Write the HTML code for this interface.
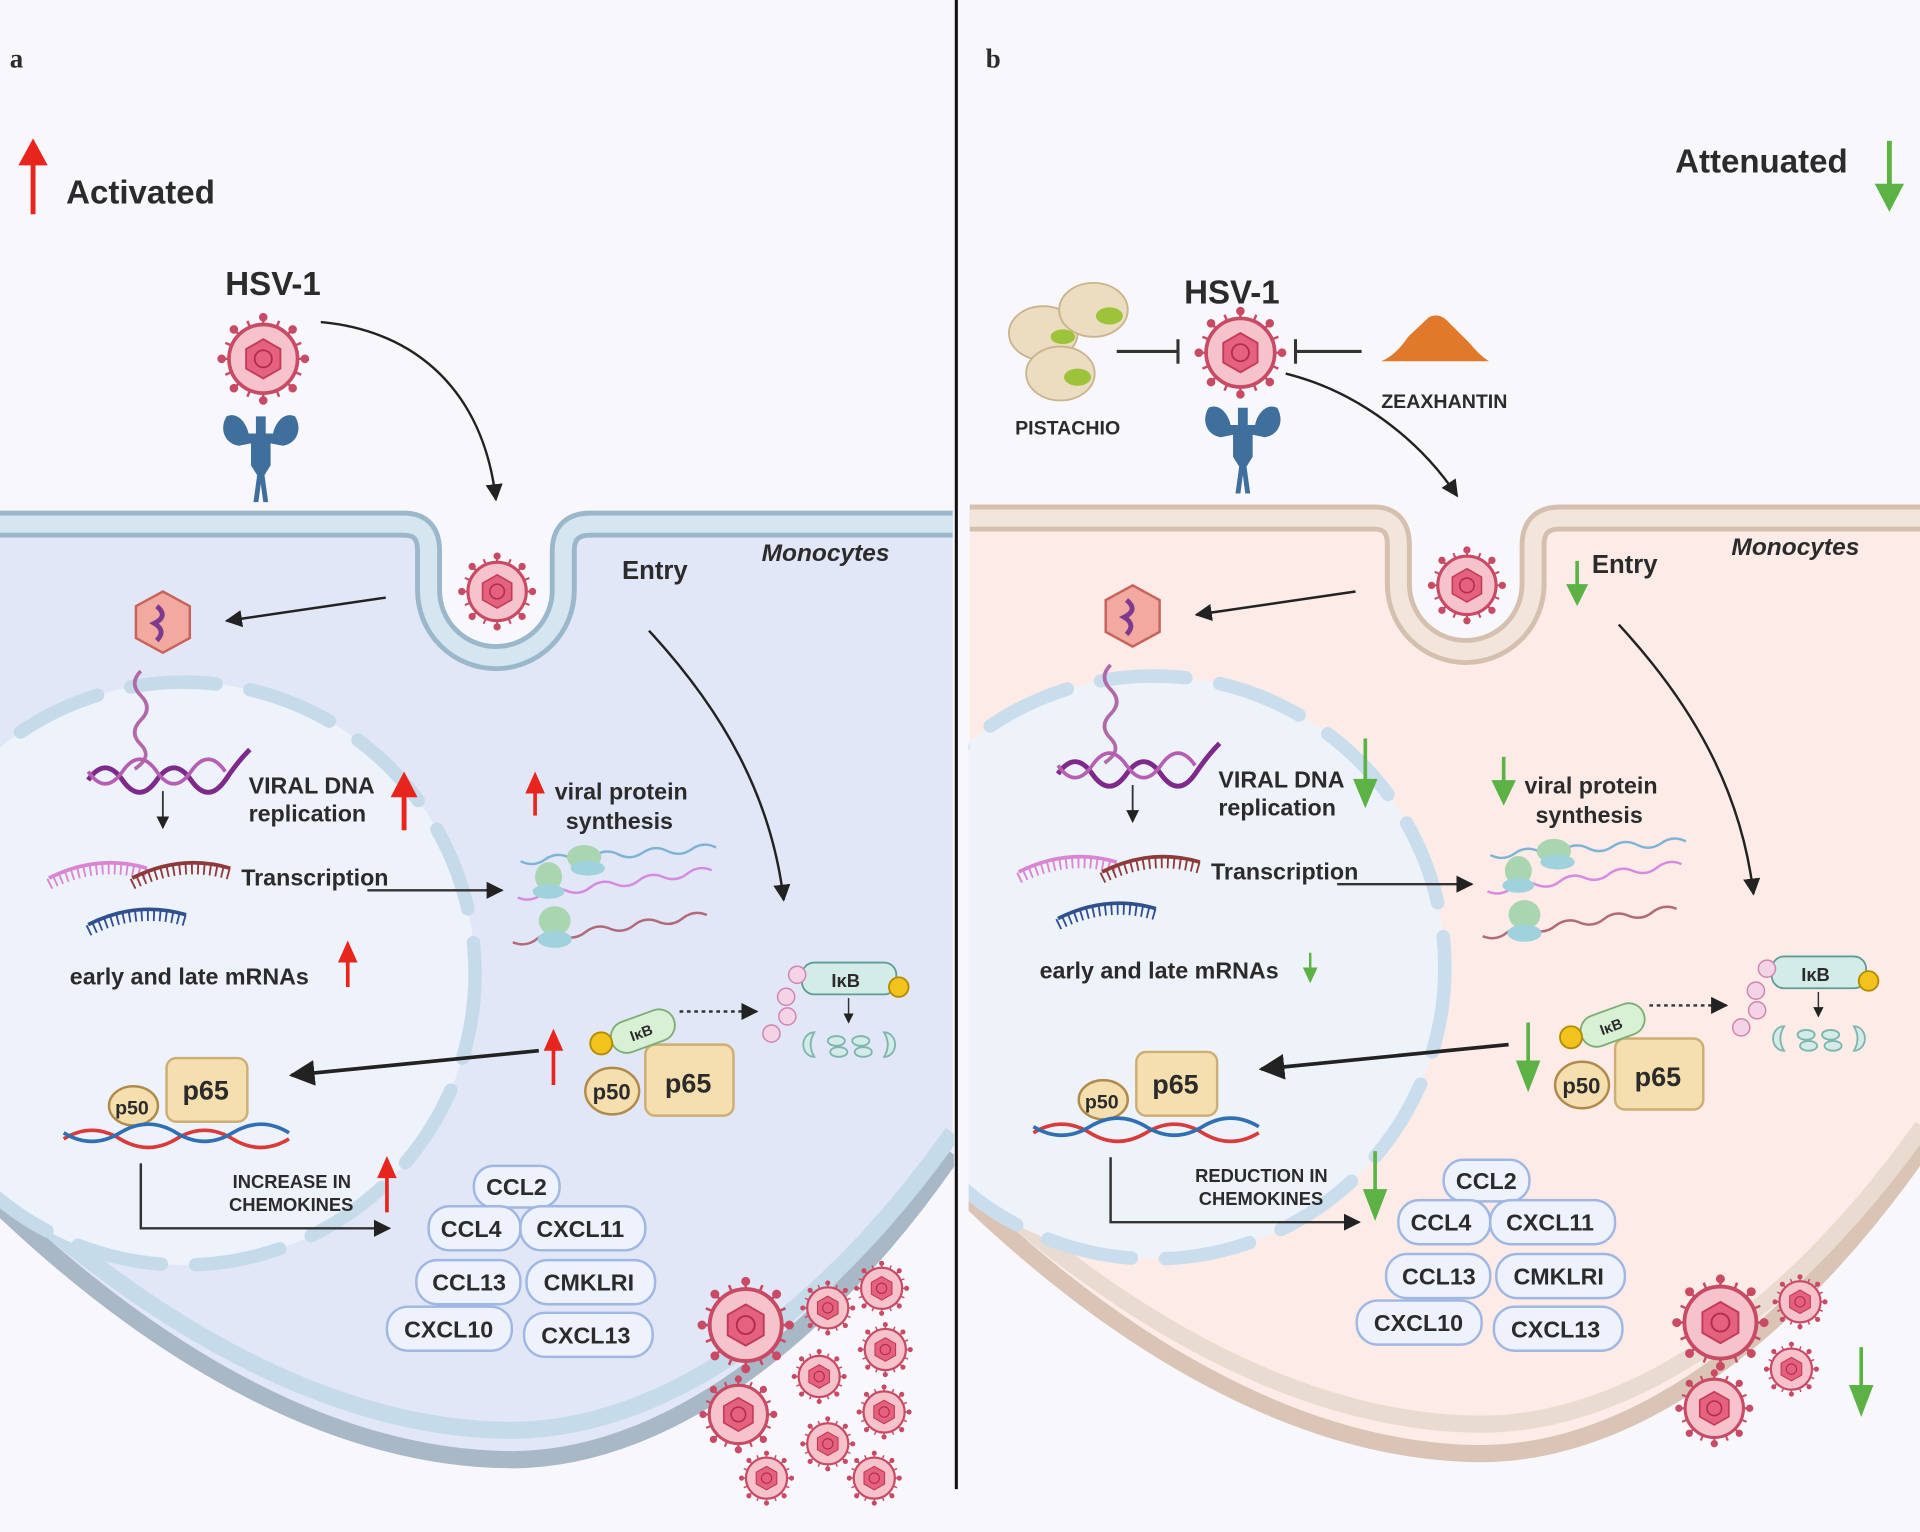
<!DOCTYPE html>
<html><head><meta charset="utf-8">
<style>
html,body{margin:0;padding:0;background:#f8f8fc;}
svg{display:block;}
text{font-family:"Liberation Sans",sans-serif;font-weight:bold;fill:#2b2b2b;}
</style></head>
<body>
<svg width="1920" height="1532" viewBox="0 0 1568 1251" preserveAspectRatio="none" xmlns="http://www.w3.org/2000/svg">
<defs>
<clipPath id="cpL"><rect x="0" y="0" width="779" height="1251"/></clipPath>
<clipPath id="cpR"><rect x="-1" y="0" width="800" height="1260"/></clipPath>
<g id="virus">
 <g stroke="#c94a64" stroke-width="2" fill="#c94a64">
  <line x1="0" y1="-34" x2="0" y2="34"/><line x1="-34" y1="0" x2="34" y2="0"/>
  <line x1="-24" y1="-24" x2="24" y2="24"/><line x1="-24" y1="24" x2="24" y2="-24"/>
  <line x1="-13" y1="-31" x2="13" y2="31"/><line x1="13" y1="-31" x2="-13" y2="31"/>
  <line x1="-31" y1="-13" x2="31" y2="13"/><line x1="-31" y1="13" x2="31" y2="-13"/>
  <circle cx="0" cy="-34" r="2.5"/><circle cx="0" cy="34" r="2.5"/><circle cx="-34" cy="0" r="2.5"/><circle cx="34" cy="0" r="2.5"/>
  <circle cx="24" cy="24" r="2.5"/><circle cx="-24" cy="-24" r="2.5"/><circle cx="24" cy="-24" r="2.5"/><circle cx="-24" cy="24" r="2.5"/>
 </g>
 <circle r="28" fill="#f6c3cc" stroke="#c94a64" stroke-width="3"/>
 <polygon points="0,-16 14,-8 14,8 0,16 -14,8 -14,-8" fill="#e4627d" stroke="#c23a57" stroke-width="1.5"/>
 <circle r="7" fill="none" stroke="#b22d4a" stroke-width="1.5"/>
</g>
<g id="receptor">
 <path d="M-28,0 C-34,10 -30,22 -18,24 L-8,22 L-8,40 L-3,48 L-6,70 L-2,70 L0,55 L2,70 L6,70 L3,48 L8,40 L8,22 L18,24 C30,22 34,10 28,0 C20,-4 12,4 10,14 L4,14 L4,0 L-4,0 L-4,14 L-10,14 C-12,4 -20,-4 -28,0Z" fill="#3f6f9c"/>
</g>
<g id="mrna">
 <path d="M0,0 Q40,-20 80,-8" fill="none" stroke-width="3"/>
 <path d="M0,5 Q40,-15 80,-3" fill="none" stroke-width="9" stroke-dasharray="1.5,3.5"/>
</g>
<marker id="ah" viewBox="0 0 10 10" refX="9" refY="5" markerWidth="7" markerHeight="7" orient="auto"><path d="M0,0 L10,5 L0,10z" fill="#222"/></marker>
</defs>

<rect width="1568" height="1251" fill="#f8f8fc"/>

<!-- ================= LEFT CELL ================= -->
<g clip-path="url(#cpL)">
<path d="M0,428 L330,428 Q350,428 350,450 L350,482 A55,55 0 0 0 460,482 L460,450 Q460,428 482,428 L778,428 L778,942 C690,1070 560,1190 420,1192 C260,1192 110,1090 0,985 Z" fill="#e1e7f6"/>
<path d="M0,985 C110,1090 260,1192 420,1192 C560,1190 690,1070 778,942" fill="none" stroke="#a9b8c6" stroke-width="14"/>
<path d="M0,968 C110,1068 260,1168 420,1168 C560,1166 690,1050 778,925" fill="none" stroke="#c6dbea" stroke-width="14"/>
<path d="M0,428 L330,428 Q350,428 350,450 L350,482 A55,55 0 0 0 460,482 L460,450 Q460,428 482,428 L778,428" fill="none" stroke="#9bb8cb" stroke-width="22"/>
<path d="M0,428 L330,428 Q350,428 350,450 L350,482 A55,55 0 0 0 460,482 L460,450 Q460,428 482,428 L778,428" fill="none" stroke="#d5e6f0" stroke-width="14"/>
<circle cx="150" cy="795" r="238" fill="#edf2fb"/>
<circle cx="150" cy="795" r="238" fill="none" stroke="#c6dbea" stroke-width="11" stroke-linecap="round" stroke-dasharray="70,28"/>
</g>

<text x="8" y="55" style="font-family:'Liberation Serif',serif" font-size="22">a</text>
<line x1="27" y1="175" x2="27" y2="130" stroke="#e8251c" stroke-width="4"/><polygon points="15,135 27,113 39,135" fill="#e8251c"/>
<text x="54" y="166" font-size="27">Activated</text>
<text x="184" y="241" font-size="27">HSV-1</text>
<use href="#virus" transform="translate(215,293)"/>
<use href="#receptor" transform="translate(213,340)"/>
<path d="M262,263 C340,270 395,320 405,408" fill="none" stroke="#222" stroke-width="2" marker-end="url(#ah)"/>
<use href="#virus" transform="translate(406,483) scale(0.85)"/>

<g id="cellL">
<text x="508" y="473" font-size="21">Entry</text>
<text x="622" y="458" font-size="20" font-style="italic">Monocytes</text>
<path d="M315,488 L185,507" stroke="#222" stroke-width="2" marker-end="url(#ah)"/>
<polygon points="133,483 155,495 155,521 133,533 111,521 111,495" fill="#f1a9a0" stroke="#c9625a" stroke-width="2"/>
<path d="M128,495 q10,8 -2,14 q10,6 2,14" stroke="#7d3a8f" stroke-width="4" fill="none"/>
<path d="M115,548 q-10,10 0,20 q10,10 0,20 q-10,10 0,20 q10,10 -5,20" stroke="#b06aa8" stroke-width="3" fill="none"/>
<path d="M72,637 q14,-20 28,0 q14,20 28,0 q14,-20 28,0 q14,20 28,0 q10,-15 20,-25" stroke="#7d2a8a" stroke-width="4" fill="none"/>
<path d="M72,630 q14,20 28,0 q14,-20 28,0 q14,20 28,0 q14,-20 28,0" stroke="#b55fb3" stroke-width="3" fill="none"/>
<line x1="133" y1="646" x2="133" y2="676" stroke="#333" stroke-width="1.5" marker-end="url(#ah)"/>
<use href="#mrna" transform="translate(40,717)" stroke="#d985d4"/>
<use href="#mrna" transform="translate(108,717)" stroke="#8e3a3a"/>
<use href="#mrna" transform="translate(72,755)" stroke="#2f4f8e"/>
<text x="203" y="648" font-size="19">VIRAL DNA</text>
<text x="203" y="671" font-size="19">replication</text>
<text x="197" y="723" font-size="19">Transcription</text>
<line x1="300" y1="727" x2="410" y2="727" stroke="#333" stroke-width="2" marker-end="url(#ah)"/>
<text x="57" y="804" font-size="19">early and late mRNAs</text>
<text x="453" y="653" font-size="19">viral protein</text>
<text x="462" y="677" font-size="19">synthesis</text>
<path d="M425,698 q10,6 20,0 t20,0 t20,0 t20,0 t20,0 t20,0 t20,0 t20,0" stroke="#7fb3d6" stroke-width="2" fill="none" transform="rotate(-4 500 698)"/>
<path d="M422,722 q10,6 20,0 t20,0 t20,0 t20,0 t20,0 t20,0 t20,0 t20,0" stroke="#d68ae0" stroke-width="2" fill="none" transform="rotate(-8 500 722)"/>
<path d="M418,758 q10,6 20,0 t20,0 t20,0 t20,0 t20,0 t20,0 t20,0 t20,0" stroke="#b06a78" stroke-width="2" fill="none" transform="rotate(-8 500 758)"/>
<ellipse cx="477" cy="700" rx="14" ry="10" fill="#a9d6b0"/><ellipse cx="480" cy="709" rx="14" ry="6" fill="#9fd2dc"/>
<ellipse cx="448" cy="716" rx="11" ry="12" fill="#a9d6b0"/><ellipse cx="448" cy="728" rx="13" ry="6" fill="#9fd2dc"/>
<ellipse cx="453" cy="752" rx="13" ry="12" fill="#a9d6b0"/><ellipse cx="453" cy="767" rx="14" ry="7" fill="#9fd2dc"/>
<path d="M530,515 C590,580 630,650 640,735" fill="none" stroke="#222" stroke-width="2" marker-end="url(#ah)"/>
<rect x="655" y="786" width="77" height="26" rx="10" fill="#d3ece8" stroke="#5f9c94" stroke-width="1.5"/>
<text x="679" y="806" font-size="15" font-weight="normal">IκB</text>
<circle cx="734" cy="806" r="8" fill="#f2c21d" stroke="#b38a00" stroke-width="1.5"/>
<g fill="#f5d3e6" stroke="#d184b0" stroke-width="1.2"><circle cx="651" cy="796" r="7"/><circle cx="642" cy="814" r="7"/><circle cx="643" cy="830" r="7"/><circle cx="630" cy="844" r="7"/></g>
<line x1="693" y1="815" x2="693" y2="835" stroke="#333" stroke-width="1.2" marker-end="url(#ah)"/>
<g fill="#d3ece8" stroke="#7fb5ad" stroke-width="1.5"><path d="M665,843 a9,10 0 1 0 0,20 q-6,-10 0,-20z"/><ellipse cx="683" cy="850" rx="7" ry="4"/><ellipse cx="685" cy="859" rx="7" ry="4"/><ellipse cx="703" cy="850" rx="7" ry="4"/><ellipse cx="705" cy="859" rx="7" ry="4"/><path d="M722,843 a9,10 0 1 1 0,20 q6,-10 0,-20z"/></g>
<line x1="555" y1="826" x2="618" y2="826" stroke="#333" stroke-width="2" stroke-dasharray="3,3" marker-end="url(#ah)"/>
<rect x="527" y="853" width="72" height="58" rx="8" fill="#f5dfae" stroke="#cdae74" stroke-width="2"/>
<text x="543" y="892" font-size="22" font-weight="normal">p65</text>
<ellipse cx="500" cy="891" rx="22" ry="19" fill="#f5dfae" stroke="#b08a4a" stroke-width="2"/>
<text x="484" y="898" font-size="18" font-weight="normal">p50</text>
<g transform="rotate(-20 525 842)"><rect x="498" y="829" width="54" height="26" rx="13" fill="#d8f0d4" stroke="#7cae74" stroke-width="1.5"/><text x="514" y="847" font-size="12" font-weight="normal">IκB</text></g>
<circle cx="491" cy="852" r="9" fill="#f2c21d" stroke="#b38a00" stroke-width="1.5"/>
<path d="M440,858 L238,878" stroke="#222" stroke-width="3" marker-end="url(#ah)"/>
<rect x="136" y="864" width="66" height="52" rx="8" fill="#f5dfae" stroke="#cdae74" stroke-width="2"/>
<text x="149" y="898" font-size="22" font-weight="normal">p65</text>
<ellipse cx="109" cy="903" rx="20" ry="16" fill="#f5dfae" stroke="#b08a4a" stroke-width="2"/>
<text x="94" y="910" font-size="16" font-weight="normal">p50</text>
<path d="M52,930 q23,-14 46,0 t46,0 t46,0 t46,0" stroke="#d93a3a" stroke-width="3" fill="none"/>
<path d="M52,925 q23,14 46,0 t46,0 t46,0 t46,0" stroke="#2f6fb2" stroke-width="3" fill="none"/>
<path d="M115,950 L115,1003 L318,1003" fill="none" stroke="#333" stroke-width="2" marker-end="url(#ah)"/>
<g stroke="#9fb7e2" stroke-width="2" fill="#eef2fd">
<rect x="387" y="952" width="70" height="34" rx="16"/>
<rect x="350" y="985" width="75" height="36" rx="17"/>
<rect x="425" y="985" width="102" height="36" rx="17"/>
<rect x="340" y="1029" width="85" height="36" rx="17"/>
<rect x="430" y="1029" width="105" height="36" rx="17"/>
<rect x="316" y="1067" width="102" height="36" rx="17"/>
<rect x="428" y="1072" width="105" height="36" rx="17"/>
</g>
<g font-size="19"><text x="397" y="976">CCL2</text><text x="360" y="1010">CCL4</text><text x="438" y="1010">CXCL11</text><text x="353" y="1054">CCL13</text><text x="444" y="1054">CMKLRI</text><text x="330" y="1092">CXCL10</text><text x="442" y="1097">CXCL13</text></g>
</g>
<text x="190" y="970" font-size="15">INCREASE IN</text>
<text x="187" y="989" font-size="15">CHEMOKINES</text>

<g fill="#e8251c" stroke="#e8251c">
<line x1="330" y1="678" x2="330" y2="645" stroke-width="4"/><polygon points="319,651 330,630 341,651" stroke="none"/>
<line x1="437" y1="666" x2="437" y2="645" stroke-width="3"/><polygon points="429,648 437,630 445,648" stroke="none"/>
<line x1="284" y1="806" x2="284" y2="783" stroke-width="3"/><polygon points="276,786 284,768 292,786" stroke="none"/>
<line x1="452" y1="886" x2="452" y2="855" stroke-width="3"/><polygon points="444,858 452,840 460,858" stroke="none"/>
<line x1="316" y1="990" x2="316" y2="960" stroke-width="3"/><polygon points="308,962 316,944 324,962" stroke="none"/>
</g>
<use href="#virus" transform="translate(609,1082) scale(1.05)"/>
<use href="#virus" transform="translate(676,1068) scale(0.6)"/>
<use href="#virus" transform="translate(720,1052) scale(0.6)"/>
<use href="#virus" transform="translate(723,1102) scale(0.6)"/>
<use href="#virus" transform="translate(669,1124) scale(0.6)"/>
<use href="#virus" transform="translate(603,1155) scale(0.85)"/>
<use href="#virus" transform="translate(722,1153) scale(0.6)"/>
<use href="#virus" transform="translate(676,1179) scale(0.6)"/>
<use href="#virus" transform="translate(626,1207) scale(0.6)"/>
<use href="#virus" transform="translate(714,1207) scale(0.6)"/>

<line x1="781" y1="0" x2="781" y2="1216" stroke="#111" stroke-width="2.5"/>

<!-- ================= RIGHT CELL ================= -->
<g transform="translate(792,-5)">
<g clip-path="url(#cpR)">
<path d="M0,428 L330,428 Q350,428 350,450 L350,482 A55,55 0 0 0 460,482 L460,450 Q460,428 482,428 L778,428 L778,942 C690,1070 560,1190 420,1192 C260,1192 110,1090 0,985 Z" fill="#fcebe7"/>
<path d="M0,985 C110,1090 260,1192 420,1192 C560,1190 690,1070 778,942" fill="none" stroke="#d9c4b5" stroke-width="14"/>
<path d="M0,968 C110,1068 260,1168 420,1168 C560,1166 690,1050 778,925" fill="none" stroke="#eadbd0" stroke-width="14"/>
<path d="M0,428 L330,428 Q350,428 350,450 L350,482 A55,55 0 0 0 460,482 L460,450 Q460,428 482,428 L778,428" fill="none" stroke="#d5c0af" stroke-width="22"/>
<path d="M0,428 L330,428 Q350,428 350,450 L350,482 A55,55 0 0 0 460,482 L460,450 Q460,428 482,428 L778,428" fill="none" stroke="#f1e5dc" stroke-width="14"/>
<circle cx="150" cy="795" r="238" fill="#eef3fa"/>
<circle cx="150" cy="795" r="238" fill="none" stroke="#c9dded" stroke-width="11" stroke-linecap="round" stroke-dasharray="70,28"/>
</g>
<use href="#virus" transform="translate(406,483) scale(0.85)"/>
<use href="#cellL"/>
</g>
<text x="976" y="965" font-size="15">REDUCTION IN</text>
<text x="979" y="984" font-size="15">CHEMOKINES</text>

<text x="805" y="55" style="font-family:'Liberation Serif',serif" font-size="22">b</text>
<text x="1368" y="141" font-size="27">Attenuated</text>
<text x="967" y="248" font-size="27">HSV-1</text>
<use href="#virus" transform="translate(1013,288)"/>
<use href="#receptor" transform="translate(1015,333)"/>
<path d="M1050,305 C1110,320 1160,360 1190,405" fill="none" stroke="#222" stroke-width="2" marker-end="url(#ah)"/>
<g stroke="#c9b48f" stroke-width="1.5">
<ellipse cx="852" cy="272" rx="28" ry="22" fill="#ecdcc0"/>
<ellipse cx="893" cy="253" rx="28" ry="22" fill="#ecdcc0"/>
<ellipse cx="866" cy="305" rx="28" ry="22" fill="#ecdcc0"/>
</g>
<g fill="#9dc33b"><ellipse cx="906" cy="258" rx="11" ry="7"/><ellipse cx="880" cy="308" rx="11" ry="7"/><ellipse cx="868" cy="275" rx="10" ry="6"/></g>
<line x1="912" y1="287" x2="962" y2="287" stroke="#333" stroke-width="2.5"/><line x1="962" y1="277" x2="962" y2="297" stroke="#333" stroke-width="2.5"/>
<line x1="1112" y1="287" x2="1058" y2="287" stroke="#333" stroke-width="2.5"/><line x1="1058" y1="277" x2="1058" y2="297" stroke="#333" stroke-width="2.5"/>
<path d="M1128,295 Q1140,290 1150,275 L1167,259 Q1175,255 1182,262 L1200,280 Q1208,290 1216,295 Z" fill="#e07a2a"/>
<text x="829" y="355" font-size="16">PISTACHIO</text>
<text x="1128" y="333" font-size="16">ZEAXHANTIN</text>

<g fill="#5db246" stroke="#5db246">
<line x1="1543" y1="115" x2="1543" y2="155" stroke-width="4"/><polygon points="1531,150 1543,173 1555,150" stroke="none"/>
<line x1="1288" y1="458" x2="1288" y2="480" stroke-width="3"/><polygon points="1279,477 1288,495 1297,477" stroke="none"/>
<line x1="1115" y1="603" x2="1115" y2="640" stroke-width="3"/><polygon points="1105,636 1115,660 1125,636" stroke="none"/>
<line x1="1228" y1="618" x2="1228" y2="640" stroke-width="3"/><polygon points="1218,637 1228,658 1238,637" stroke="none"/>
<line x1="1070" y1="778" x2="1070" y2="792" stroke-width="2"/><polygon points="1064,790 1070,803 1076,790" stroke="none"/>
<line x1="1248" y1="835" x2="1248" y2="870" stroke-width="3"/><polygon points="1238,866 1248,892 1258,866" stroke="none"/>
<line x1="1123" y1="940" x2="1123" y2="975" stroke-width="3"/><polygon points="1113,971 1123,997 1133,971" stroke="none"/>
<line x1="1520" y1="1100" x2="1520" y2="1135" stroke-width="3"/><polygon points="1510,1131 1520,1157 1530,1131" stroke="none"/>
</g>
<use href="#virus" transform="translate(1405,1080) scale(1.05)"/>
<use href="#virus" transform="translate(1470,1063) scale(0.6)"/>
<use href="#virus" transform="translate(1463,1118) scale(0.6)"/>
<use href="#virus" transform="translate(1400,1150) scale(0.85)"/>
</svg>
</body></html>
